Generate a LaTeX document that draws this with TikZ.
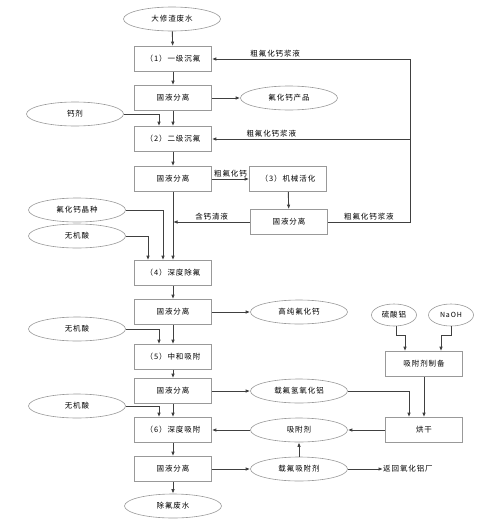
\documentclass[tikz,border=0pt]{standalone}
\usepackage{fontspec}
\newfontfamily\cjk[LetterSpace=12]{Noto Sans CJK SC}
\usetikzlibrary{shapes.geometric,arrows.meta}
\begin{document}
\begin{tikzpicture}[x=1pt,y=-1pt,
  every node/.style={font=\cjk\fontsize{7.5}{9}\selectfont, text=black},
  box/.style={draw=black!40, line width=0.6pt, minimum width=77pt, minimum height=25pt, inner sep=0pt},
  ell/.style={ellipse, draw=black!40, line width=0.6pt, minimum width=97pt, minimum height=24pt, inner sep=0pt},
  sell/.style={ellipse, draw=black!40, line width=0.6pt, minimum width=45pt, minimum height=22pt, inner sep=0pt},
  arr/.style={draw=black!75, line width=0.9pt, -{Latex[length=4.5pt,width=3.5pt]}},
  ln/.style={draw=black!75, line width=0.9pt},
  lab/.style={inner sep=1pt}]
\useasboundingbox (0,0) rectangle (494,525);
% main column
\node[ell] (e0) at (172,19) {大修渣废水};
\node[box] (b1) at (173,59) {（1）一级沉氟};
\node[box] (s1) at (173,98) {固液分离};
\node[box] (b2) at (173,139) {（2）二级沉氟};
\node[box] (s2) at (173,179) {固液分离};
\node[box] (b3) at (288,179) {（3）机械活化};
\node[box] (s3) at (289,222) {固液分离};
\node[box] (b4) at (173,273) {（4）深度除氟};
\node[box] (s4) at (173,312) {固液分离};
\node[box] (b5) at (173,357) {（5）中和吸附};
\node[box] (s5) at (173,391) {固液分离};
\node[box] (b6) at (173,430) {（6）深度吸附};
\node[box] (s6) at (173,469) {固液分离};
\node[ell] (eout) at (173,506) {除氟废水};
% side ellipses
\node[ell] (ep1) at (289,98) {氟化钙产品};
\node[ell] (eca) at (75,114) {钙剂};
\node[ell] (eseed) at (77,210) {氟化钙晶种};
\node[ell] (eacid1) at (77,236) {无机酸};
\node[ell] (ep2) at (299,312) {高纯氟化钙};
\node[ell] (eacid2) at (77,329) {无机酸};
\node[ell] (eAl) at (299,391) {载氟氢氧化铝};
\node[ell] (eacid3) at (77,406) {无机酸};
\node[ell] (eads) at (299,430) {吸附剂};
\node[ell] (eload) at (299,469) {载氟吸附剂};
\node[sell] (als) at (394,315) {硫酸铝};
\node[sell] (naoh) at (451,315) {\fontsize{7}{9}\selectfont NaOH};
\node[box] (prep) at (424,364) {吸附剂制备};
\node[box] (dry) at (424,430) {烘干};
\node[anchor=west, inner sep=0pt] (ret) at (383,469) {返回氧化铝厂};
% coordinates
\coordinate (r0) at (410,222);
\coordinate (r1) at (410,59);
\coordinate (r2) at (410,139);
% main flow
\draw[arr] (e0) -- (b1);
\draw[arr] (b1) -- (s1);
\draw[arr] (s1) -- (b2);
\draw[arr] (s1) -- (ep1);
\draw[arr] (b2) -- (s2);
\draw[arr] (s2) -- node[lab, above] {粗氟化钙} (b3);
\draw[arr] (b3) -- (s3);
\draw[arr] (s3.west) -- node[lab, above] {含钙清液} (s3.west -| s2);
\draw[arr] (s2) -- (b4);
\draw[ln] (s3.east) -- node[lab, above] {粗氟化钙浆液} (r0) -- (r1);
\draw[arr] (r1) -- node[lab, above, pos=0.68] {粗氟化钙浆液} (b1.east);
\draw[arr] (r2) -- node[lab, above, pos=0.70] {粗氟化钙浆液} (b2.east);
\draw[arr] (eca.east) -| ([xshift=-14pt]b2.north);
\draw[arr] (eseed.east) -| ([xshift=-10pt]b4.north);
\draw[arr] (eacid1.east) -| ([xshift=-25pt]b4.north);
\draw[arr] (b4) -- (s4);
\draw[arr] (s4) -- (ep2);
\draw[arr] (s4) -- (b5);
\draw[arr] (eacid2.east) -| ([xshift=-14pt]b5.north);
\draw[arr] (b5) -- (s5);
\draw[arr] (s5) -- (eAl);
\draw[arr] (eAl.east) -| ([xshift=-15pt]dry.north);
\draw[arr] (s5) -- (b6);
\draw[arr] (eacid3.east) -| ([xshift=-14pt]b6.north);
\draw[arr] (b6) -- (s6);
\draw[arr] (s6) -- (eout);
\draw[arr] (s6) -- (eload);
\draw[arr] (eload) -- (eads);
\draw[arr] (eload.east) -- (ret.west);
\draw[arr] (dry) -- (eads);
\draw[arr] (eads) -- (b6);
\draw[arr] ([xshift=2pt]als.south) -- ++(0,9) -| ([xshift=-19pt]prep.north);
\draw[arr] (naoh.south) -- ++(0,9) -| ([xshift=17pt]prep.north);
\draw[arr] (prep) -- (dry);
\end{tikzpicture}
\end{document}
